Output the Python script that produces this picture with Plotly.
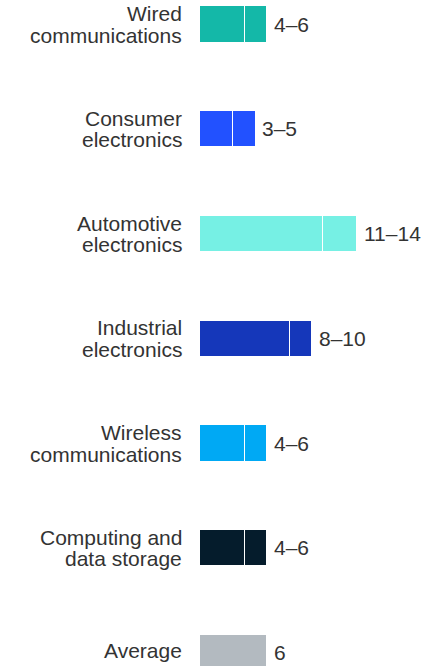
import plotly.graph_objects as go

categories = ["Wired<br>communications", "Consumer<br>electronics", "Automotive<br>electronics",
              "Industrial<br>electronics", "Wireless<br>communications",
              "Computing and<br>data storage", "Average"]
low_values = [4, 3, 11, 8, 4, 4, 6]
high_values = [6, 5, 14, 10, 6, 6, 6]
value_labels = ["4–6", "3–5", "11–14", "8–10", "4–6", "4–6", "6"]
colors = ["#14b8a8", "#2251ff", "#76f0e4", "#1537ba", "#00a9f4", "#051c2c", "#b3bac0"]

pos = list(range(len(categories)))

fig = go.Figure()
# low segment
fig.add_trace(go.Bar(
    y=pos, x=low_values, orientation="h", width=0.344,
    marker=dict(color=colors, line=dict(color="white", width=1)),
    hoverinfo="skip", showlegend=False,
))
# range segment (low -> high)
fig.add_trace(go.Bar(
    y=pos, x=[h - l for h, l in zip(high_values, low_values)], base=low_values,
    orientation="h", width=0.344,
    marker=dict(color=colors, line=dict(color="white", width=1)),
    hoverinfo="skip", showlegend=False,
))

font_family = "Liberation Sans, Arial, sans-serif"
text_color = "#333333"

annotations = []
for i, (cat, hv, vl) in enumerate(zip(categories, high_values, value_labels)):
    lines = cat.split("<br>")
    if len(lines) == 2:
        shifts = [10.5, -11]
    else:
        shifts = [2]
    for line, s in zip(lines, shifts):
        annotations.append(dict(
            x=0, xref="paper", y=i, yref="y", text=line, showarrow=False,
            xanchor="right", yanchor="middle", xshift=-15, yshift=s,
            font=dict(family=font_family, size=21, color=text_color),
        ))
    annotations.append(dict(
        x=hv, xref="x", y=i, yref="y", text=vl, showarrow=False,
        xanchor="left", yanchor="middle", xshift=5, yshift=0,
        font=dict(family=font_family, size=21, color=text_color),
    ))

px_per_unit = 11.25
fig.update_layout(
    width=433, height=666,
    margin=dict(l=199, r=0, t=0, b=0),
    barmode="stack",
    plot_bgcolor="white", paper_bgcolor="white",
    xaxis=dict(range=[0, 234 / px_per_unit], visible=False, fixedrange=True),
    yaxis=dict(range=[6 + 13.5 / 104.75, -24 / 104.75], visible=False, fixedrange=True),
    annotations=annotations,
)

fig.write_html("out.html", config={"displayModeBar": False},
               post_script="document.body.style.margin='0';")
